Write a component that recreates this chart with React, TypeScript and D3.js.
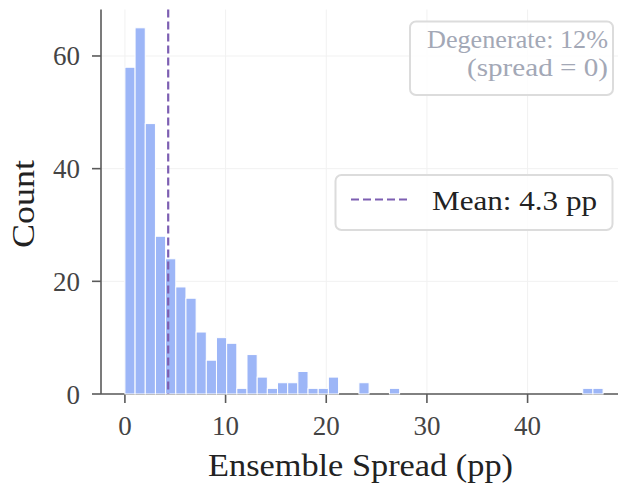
import React from 'react'
import * as d3 from 'd3'

// histogram counts per bin (bins start at 0, width = maxSpread / nBins)
const maxSpread = 47.5
const binCounts = [
  58, 65, 48, 28, 24, 19, 17, 11, 6, 10, 9, 1, 7, 3, 1, 2, 2, 4, 1, 1, 3, 0, 0, 2,
  0, 0, 1, 0, 0, 0, 0, 0, 0, 0, 0, 0, 0, 0, 0, 0, 0, 0, 0, 0, 0, 1, 1,
]
const meanSpread = 4.3
const degeneratePct = 12
const xTicks = [0, 10, 20, 30, 40]
const yTicks = [0, 20, 40, 60]

const W = 618
const H = 487
const FONT = '"Liberation Serif", "DejaVu Serif", serif'

export default function App() {
  const binWidth = maxSpread / binCounts.length
  const bins = binCounts.map((c, i) => ({ x0: i * binWidth, x1: (i + 1) * binWidth, count: c }))

  const pad = maxSpread * 0.05
  const x = d3.scaleLinear().domain([-pad, maxSpread + pad]).range([101, 627])
  const yMax = d3.max(binCounts)! * 1.05
  const y = d3.scaleLinear().domain([0, yMax]).range([394, 9.5])

  const [x0, x1] = x.range()
  const [yb, yt] = y.range()
  const fit = { lengthAdjust: 'spacingAndGlyphs' as const }

  return (
    <svg width={W} height={H} style={{ position: 'absolute', left: 0, top: 0, background: '#fff' }} fontFamily={FONT}>
      {/* grid */}
      <g stroke="#f1f1f1" strokeWidth={1}>
        {xTicks.map(t => <line key={'gx' + t} x1={x(t)} x2={x(t)} y1={yt} y2={yb} />)}
        {yTicks.map(t => <line key={'gy' + t} x1={x0} x2={x1} y1={y(t)} y2={y(t)} />)}
      </g>

      {/* axes */}
      <g stroke="#5a5a5a" strokeWidth={1.6}>
        <line x1={x0} x2={x0} y1={yt} y2={yb} />
        <line x1={x0} x2={x1} y1={yb} y2={yb} />
        {xTicks.map(t => <line key={'tx' + t} x1={x(t)} x2={x(t)} y1={yb} y2={yb + 9} />)}
        {yTicks.map(t => <line key={'ty' + t} x1={x0 - 9} x2={x0} y1={y(t)} y2={y(t)} />)}
      </g>

      {/* bars */}
      <g fill="#9db6f7" stroke="#fff" strokeWidth={1}>
        {bins.filter(b => b.count > 0).map((b, i) => (
          <rect key={i} x={x(b.x0)} y={y(b.count)} width={x(b.x1) - x(b.x0)} height={y(0) - y(b.count)} />
        ))}
      </g>

      {/* mean line */}
      <line x1={x(meanSpread)} x2={x(meanSpread)} y1={yt} y2={yb} stroke="#7d5fb2" strokeWidth={2.2} strokeDasharray="8,4" />

      {/* tick labels */}
      <g fill="#444" fontSize={27}>
        {xTicks.map(t => <text key={'lx' + t} x={x(t)} y={435} textAnchor="middle">{t}</text>)}
        {yTicks.map(t => <text key={'ly' + t} x={80} y={y(t) + 9.5} textAnchor="end">{t}</text>)}
      </g>

      {/* axis labels */}
      <text x={208} y={476} fontSize={31} fill="#222" textLength={305} {...fit}>Ensemble Spread (pp)</text>
      <text transform={`translate(34, 248) rotate(-90)`} fontSize={31} fill="#222" textLength={88} {...fit}>Count</text>

      {/* degenerate note */}
      <rect x={410} y={21.5} width={203} height={73.5} rx={6} fill="#fff" fillOpacity={0.85} stroke="#dcdcdc" strokeWidth={2} />
      <g fill="#a3a8b6" fontSize={25}>
        <text x={427} y={48} textLength={181} {...fit}>Degenerate: {degeneratePct}%</text>
        <text x={467} y={76} textLength={141} {...fit}>(spread = 0)</text>
      </g>

      {/* legend */}
      <rect x={335.5} y={175} width={277} height={55} rx={6} fill="#fff" fillOpacity={0.85} stroke="#dcdcdc" strokeWidth={2} />
      <line x1={351} x2={408} y1={199.5} y2={199.5} stroke="#7d5fb2" strokeWidth={2.2} strokeDasharray="8,4" />
      <text x={432} y={209.5} fontSize={27} fill="#222" textLength={165} {...fit}>Mean: {meanSpread} pp</text>
    </svg>
  )
}
